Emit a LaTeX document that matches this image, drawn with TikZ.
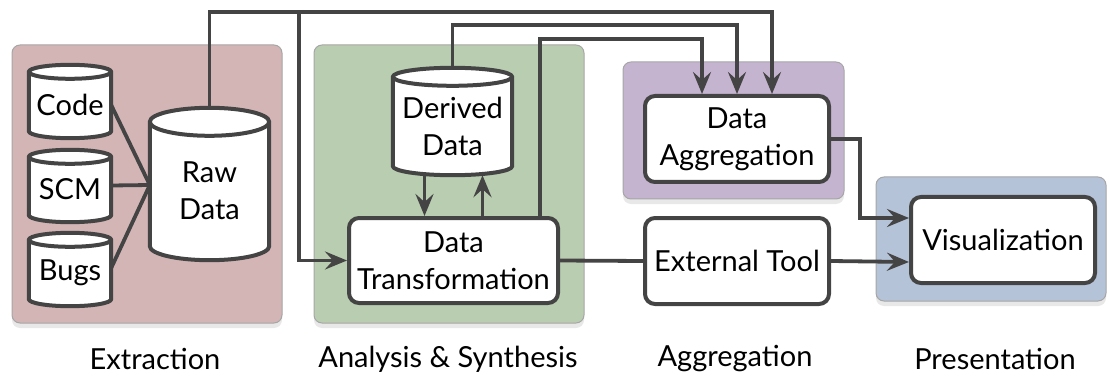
\documentclass[tikz,border=0pt]{standalone}
\usepackage{fontspec}
\setmainfont{Lato}
\usetikzlibrary{arrows.meta,calc,shadows}
\pgfdeclarelayer{bg}
\pgfdeclarelayer{mid}
\pgfsetlayers{bg,mid,main}
\definecolor{linec}{HTML}{444444}
\definecolor{pinkp}{HTML}{D4B5B6}
\definecolor{greenp}{HTML}{B9CDB1}
\definecolor{purplep}{HTML}{C5B4D0}
\definecolor{bluep}{HTML}{B5C3D8}
\tikzset{
  panel/.style={draw=gray!70, line width=1pt, rounded corners=8pt,
    drop shadow={shadow xshift=0pt, shadow yshift=-5pt, opacity=0.18}},
  procbox/.style={draw=linec, line width=4pt, fill=white, rounded corners=10pt,
    align=center, inner sep=0pt},
  cylbody/.style={inner sep=0pt, align=center},
  cylline/.style={draw=linec, line width=4pt, fill=white, line join=round},
  conn/.style={draw=linec, line width=3.8pt},
  arr/.style={conn, -{Stealth[length=22pt,width=18pt,inset=8pt]}},
  caption/.style={font=\fontsize{29}{33}\selectfont}
}
\newcommand{\drawcyl}[2]{%
  \path[cylline] let \p1=(#1.north west), \p2=(#1.south east), \n1={(\x2-\x1)/2} in
    (\x1,\y1) -- (\x1,{\y2+#2}) arc[start angle=180,end angle=360,x radius=\n1,y radius=#2]
    -- (\x2,\y1) arc[start angle=0,end angle=180,x radius=\n1,y radius=#2] -- cycle
    (\x1,\y1) arc[start angle=180,end angle=360,x radius=\n1,y radius=#2];
}
\begin{document}
\begin{tikzpicture}[x=1pt,y=-1pt,font=\fontsize{29}{37}\selectfont]
\useasboundingbox (0,0) rectangle (1109,377);
% panels
\begin{pgfonlayer}{bg}
\path[panel, fill=pinkp] (12,45) rectangle (282,323);
\path[panel, fill=greenp] (314,45) rectangle (584,323);
\path[panel, fill=purplep] (623,62) rectangle (844,199);
\path[panel, fill=bluep] (876,177) rectangle (1106,301);
\end{pgfonlayer}
% cylinder nodes (body region)
\node[cylbody, minimum width=82pt, minimum height=66pt] (code) at (70,105) {Code};
\node[cylbody, minimum width=82pt, minimum height=65pt] (scm) at (70,189.5) {SCM};
\node[cylbody, minimum width=82pt, minimum height=66pt] (bugs) at (70,273) {Bugs};
\node[cylbody, minimum width=119pt, minimum height=138pt] (raw) at (209.5,191) {Raw\\Data};
\node[cylbody, minimum width=119pt, minimum height=98pt] (der) at (452.5,126) {Derived\\Data};
\begin{pgfonlayer}{mid}
\drawcyl{code}{7pt}
\drawcyl{scm}{7pt}
\drawcyl{bugs}{7pt}
\drawcyl{raw}{14pt}
\drawcyl{der}{9pt}
\end{pgfonlayer}
% process boxes
\node[procbox, minimum width=209pt, minimum height=85pt] (dt) at (453.5,260.5) {Data\\Transformation};
\node[procbox, minimum width=184pt, minimum height=86pt] (da) at (737,139) {Data\\Aggregation};
\node[procbox, minimum width=184pt, minimum height=86pt] (ext) at (737,261) {External Tool};
\node[procbox, minimum width=184pt, minimum height=86pt] (viz) at (1003,240) {Visualization};
% captions
\node[caption] (c1) at (155,359) {Extraction};
\node[caption] (c2) at (448,359) {Analysis \& Synthesis};
\node[caption] (c3) at (735,359) {Aggregation};
\node[caption] (c4) at (995,359) {Presentation};
% sources to raw
\coordinate (rawin) at ([yshift=6pt]raw.west);
\draw[conn] (code.east) -- (rawin);
\draw[conn] ([yshift=4pt]scm.east) -- (rawin);
\draw[conn] ([yshift=5pt]bugs.east) -- (rawin);
% raw to data aggregation and data transformation
\coordinate (rawtop) at ([yshift=14pt]raw.north);
\coordinate (j1) at (299,12);
\draw[arr] (rawtop) |- (j1) -| ([xshift=35pt]da.north);
\draw[arr] (j1) |- (dt.west);
% derived to data aggregation
\draw[arr] ([yshift=9pt]der.north) |- (600,25) -| (da.north);
% dt to data aggregation
\draw[arr] ([xshift=-20pt]dt.north east) |- (650,39) -| ([xshift=-35pt]da.north);
% derived <-> dt
\draw[arr] ([xshift=-28pt]der.south) -- ([xshift=-28pt]der.south |- dt.north);
\draw[arr] ([xshift=29pt]dt.north) -- ([xshift=29pt]dt.north |- der.south);
% dt to external
\draw[conn] (dt.east) -- (ext.west);
% to visualization
\draw[arr] (da.east) -| (860,218) -- ([yshift=22pt]viz.west);
\draw[arr] (ext.east) -- ([yshift=-22pt]viz.west);
\end{tikzpicture}
\end{document}
